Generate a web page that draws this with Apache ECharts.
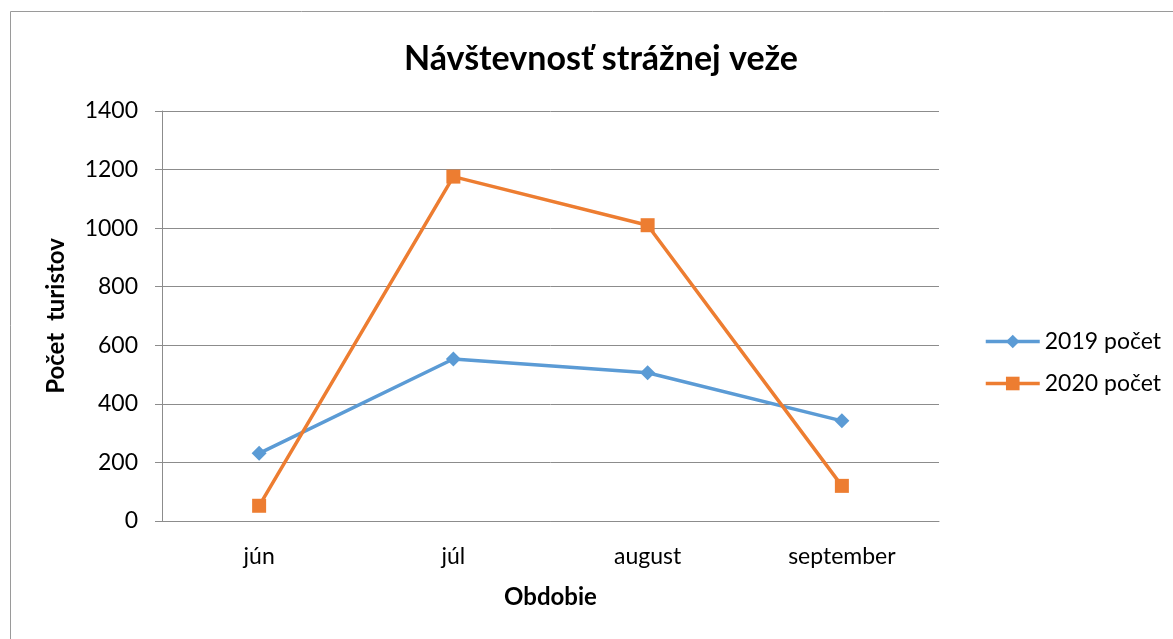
<!DOCTYPE html>
<html>
<head>
<meta charset="utf-8">
<script src="https://cdn.jsdelivr.net/npm/echarts@6/dist/echarts.min.js"></script>
<style>
  html, body { margin: 0; padding: 0; background: #fff; }
  #chart { width: 1173px; height: 639px; }
</style>
</head>
<body>
<div id="chart"></div>
<script>
    // údaje z grafu
    var months = ['jún', 'júl', 'august', 'september'];
    var count2019 = [231, 553, 506, 342];
    var count2020 = [52, 1176, 1010, 120];

    var chart = echarts.init(document.getElementById('chart'));
    var font = 'Lato, "Open Sans", sans-serif';

    var option = {
        backgroundColor: '#fff',
        textStyle: { fontFamily: font },
        title: {
            text: 'Návštevnosť strážnej veže',
            left: 596,
            textAlign: 'center',
            top: 37,
            textStyle: { fontSize: 34, fontWeight: 'bold', color: '#000', fontFamily: font }
        },
        graphic: [{
            type: 'rect',
            shape: { x: 10.5, y: 11.5, width: 1200, height: 700 },
            style: { fill: 'none', stroke: '#9a9a9a', lineWidth: 1 }
        }],
        legend: {
            orient: 'vertical',
            left: 979,
            top: 325,
            itemGap: 19,
            itemWidth: 54,
            itemHeight: 17,
            lineStyle: { width: 3.5 },
            textStyle: { fontSize: 23, color: '#000', fontFamily: font },
            data: ['2019 počet', '2020 počet']
        },
        grid: {
            left: 162,
            top: 111,
            right: 234,
            bottom: 118
        },
        xAxis: {
            type: 'category',
            data: months,
            name: 'Obdobie',
            nameLocation: 'middle',
            nameGap: 64,
            nameTextStyle: { fontSize: 24, fontWeight: 'bold', color: '#000' },
            axisLine: { lineStyle: { color: '#8c8c8c', width: 1 } },
            axisTick: { length: 8, lineStyle: { color: '#8c8c8c' } },
            axisLabel: { fontSize: 23, color: '#000', margin: 24 }
        },
        yAxis: {
            type: 'value',
            min: 0,
            max: 1400,
            interval: 200,
            name: 'Počet  turistov',
            nameLocation: 'middle',
            nameGap: 94,
            nameTextStyle: { fontSize: 24, fontWeight: 'bold', color: '#000' },
            axisLine: { show: true, lineStyle: { color: '#8c8c8c', width: 1 } },
            axisTick: { show: true, length: 7, lineStyle: { color: '#8c8c8c' } },
            axisLabel: {
                fontSize: 23,
                color: '#000',
                margin: 24,
                formatter: function (v) { return String(v); }
            },
            splitLine: { lineStyle: { color: '#8c8c8c', width: 1 } }
        },
        series: [
            {
                name: '2019 počet',
                type: 'line',
                data: count2019,
                symbol: 'diamond',
                symbolSize: 15,
                showAllSymbol: true,
                color: '#5B9BD5',
                lineStyle: { width: 3.5, color: '#5B9BD5' },
                itemStyle: { color: '#5B9BD5' }
            },
            {
                name: '2020 počet',
                type: 'line',
                data: count2020,
                symbol: 'rect',
                symbolSize: 14,
                showAllSymbol: true,
                color: '#ED7D31',
                lineStyle: { width: 3.5, color: '#ED7D31' },
                itemStyle: { color: '#ED7D31' }
            }
        ]
    };

    chart.setOption(option);
</script>
</body>
</html>
